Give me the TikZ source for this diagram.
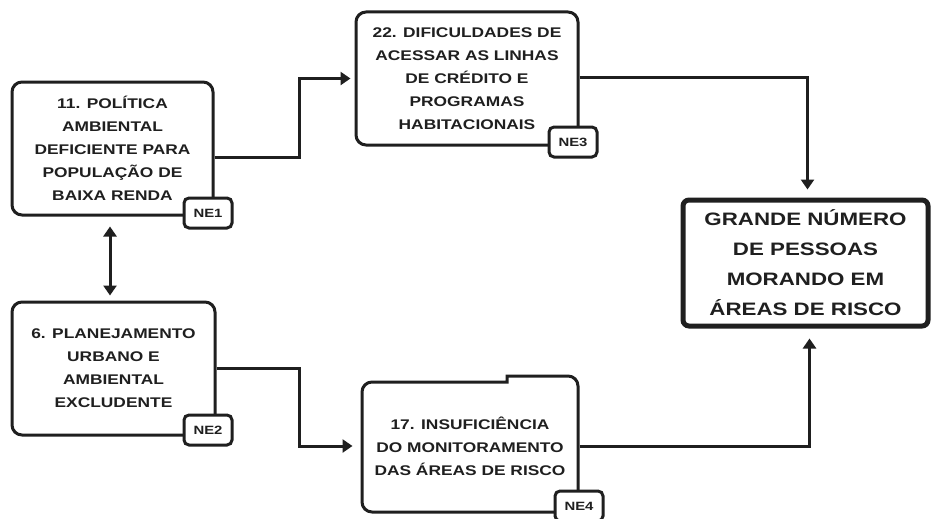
\documentclass[tikz,border=0pt]{standalone}
\usepackage{fontspec}
\setmainfont{Liberation Sans}[FakeStretch=1.24]
\usetikzlibrary{arrows.meta}
\begin{document}
\begin{tikzpicture}[x=1pt,y=-1pt,
  boxline/.style={line width=3pt,color=black!88},
  cause/.style={boxline,draw,rounded corners=10pt,align=center,inner sep=0pt,
    font=\bfseries\fontsize{14}{23}\selectfont},
  effect/.style={draw,line width=5pt,color=black!88,rounded corners=6pt,align=center,inner sep=0pt,
    font=\bfseries\fontsize{18}{30}\selectfont},
  tag/.style={boxline,draw,fill=white,rounded corners=5pt,inner sep=0pt,
    minimum width=48pt,minimum height=30pt,font=\bfseries\fontsize{12}{13}\selectfont},
  arr/.style={boxline,-{Triangle[width=13pt,length=10pt]}},
  dbl/.style={boxline,{Triangle[width=13pt,length=10pt]}-{Triangle[width=13pt,length=10pt]}}
]
\useasboundingbox (0,0) rectangle (931,519);
\fill[white] (0,0) rectangle (931,519);

\node[cause,minimum width=201pt,minimum height=133pt] (b11) at (112.5,148.5)
  {11. POLÍTICA\\AMBIENTAL\\DEFICIENTE PARA\\POPULAÇÃO DE\\BAIXA RENDA};
\node[cause,minimum width=222pt,minimum height=133pt] (b22) at (467,78.5)
  {22. DIFICULDADES DE\\ACESSAR AS LINHAS\\DE CRÉDITO E\\PROGRAMAS\\HABITACIONAIS};
\node[cause,minimum width=203pt,minimum height=133pt] (b6) at (113.5,368.5)
  {\raisebox{-4pt}{\begin{tabular}{@{}c@{}}6. PLANEJAMENTO\\URBANO E\\AMBIENTAL\\EXCLUDENTE\end{tabular}}};
\node[cause,draw=none,minimum width=216pt,minimum height=130pt] (b17) at (470,446)
  {17. INSUFICIÊNCIA\\DO MONITORAMENTO\\DAS ÁREAS DE RISCO};
\draw[boxline] (507,376) -- (507,382) [rounded corners=10pt] -- (362,382) -- (362,512)
  -- (578,512) -- (578,376) [sharp corners] -- cycle;
\node[effect,minimum width=245pt,minimum height=126pt] (gr) at (805.5,263)
  {GRANDE NÚMERO\\DE PESSOAS\\MORANDO EM\\ÁREAS DE RISCO};

\coordinate (k1) at (299,0);
\coordinate (k2) at (299,0);

\draw[arr] ([yshift=-8.5pt]b11.east) -| (k1 |- b22.west) -- ([xshift=-4pt]b22.west);
\draw[arr] ([yshift=1.5pt]b22.east) -| ([xshift=2pt,yshift=8pt]gr.north);
\draw[arr] (b6.east) -| (k2 |- b17.west) -- ([xshift=-8pt]b17.west);
\draw[arr] (b17.east) -| ([xshift=4pt,yshift=-10pt]gr.south);
\draw[dbl] ([xshift=-2.5pt,yshift=-10pt]b11.south) -- ([xshift=-3.5pt,yshift=5pt]b6.north);

\node[tag] (t1) at (208,213) {NE1};
\node[tag] (t3) at (573,142) {NE3};
\node[tag] (t2) at (208,430) {NE2};
\node[tag] (t4) at (579,506) {NE4};
\end{tikzpicture}
\end{document}
